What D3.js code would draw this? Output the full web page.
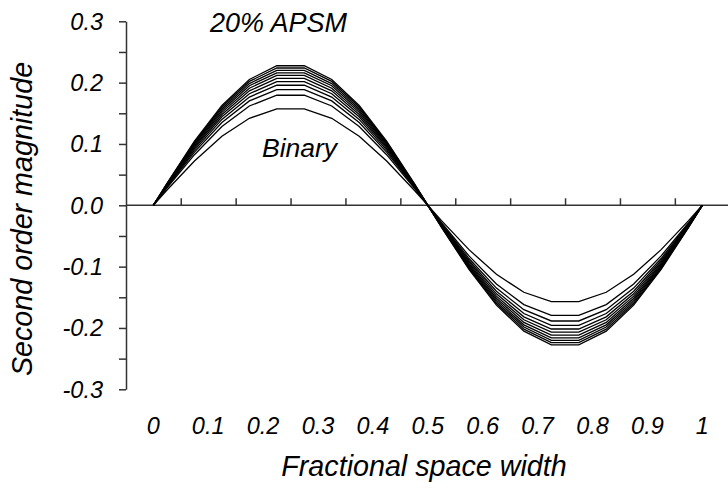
<!DOCTYPE html>
<html><head><meta charset="utf-8">
<script src="https://cdn.jsdelivr.net/npm/d3@7"></script>
<style>
html,body{margin:0;padding:0;background:#fff;}
text{font-family:"Liberation Sans",Arial,sans-serif;font-style:italic;fill:#000;}
</style></head>
<body><svg id="c" width="728" height="491"></svg>
<script>
// Fractional space width sample points
const xValues = [0, 0.025, 0.075, 0.125, 0.175, 0.225, 0.275, 0.325, 0.375, 0.425, 0.475,
                 0.525, 0.575, 0.625, 0.675, 0.725, 0.775, 0.825, 0.875, 0.925, 0.975, 1];
// Second order magnitude, one array per mask
const binary = [0, 0.0249, 0.0723, 0.1125, 0.1418, 0.1572, 0.1572, 0.1418, 0.1125, 0.0723, 0.0249,
                -0.0249, -0.0723, -0.1125, -0.1418, -0.1572, -0.1572, -0.1418, -0.1125, -0.0723, -0.0249, 0];
const apsm2 = [0, 0.0284, 0.0825, 0.1284, 0.1619, 0.1794, 0.1794, 0.1619, 0.1284, 0.0825, 0.0284,
               -0.0284, -0.0825, -0.1284, -0.1619, -0.1794, -0.1794, -0.1619, -0.1284, -0.0825, -0.0284, 0];
const apsm4 = [0, 0.0299, 0.0868, 0.1350, 0.1702, 0.1886, 0.1886, 0.1702, 0.1350, 0.0868, 0.0299,
               -0.0299, -0.0868, -0.1350, -0.1702, -0.1886, -0.1886, -0.1702, -0.1350, -0.0868, -0.0299, 0];
const apsm6 = [0, 0.0310, 0.0900, 0.1401, 0.1765, 0.1957, 0.1957, 0.1765, 0.1401, 0.0900, 0.0310,
               -0.0310, -0.0900, -0.1401, -0.1765, -0.1957, -0.1957, -0.1765, -0.1401, -0.0900, -0.0310, 0];
const apsm8 = [0, 0.0319, 0.0927, 0.1443, 0.1819, 0.2017, 0.2017, 0.1819, 0.1443, 0.0927, 0.0319,
               -0.0319, -0.0927, -0.1443, -0.1819, -0.2017, -0.2017, -0.1819, -0.1443, -0.0927, -0.0319, 0];
const apsm10 = [0, 0.0328, 0.0952, 0.1481, 0.1866, 0.2069, 0.2069, 0.1866, 0.1481, 0.0952, 0.0328,
                -0.0328, -0.0952, -0.1481, -0.1866, -0.2069, -0.2069, -0.1866, -0.1481, -0.0952, -0.0328, 0];
const apsm12 = [0, 0.0335, 0.0973, 0.1515, 0.1909, 0.2117, 0.2117, 0.1909, 0.1515, 0.0973, 0.0335,
                -0.0335, -0.0973, -0.1515, -0.1909, -0.2117, -0.2117, -0.1909, -0.1515, -0.0973, -0.0335, 0];
const apsm14 = [0, 0.0342, 0.0994, 0.1546, 0.1949, 0.2160, 0.2160, 0.1949, 0.1546, 0.0994, 0.0342,
                -0.0342, -0.0994, -0.1546, -0.1949, -0.2160, -0.2160, -0.1949, -0.1546, -0.0994, -0.0342, 0];
const apsm16 = [0, 0.0349, 0.1012, 0.1575, 0.1985, 0.2201, 0.2201, 0.1985, 0.1575, 0.1012, 0.0349,
                -0.0349, -0.1012, -0.1575, -0.1985, -0.2201, -0.2201, -0.1985, -0.1575, -0.1012, -0.0349, 0];
const apsm18 = [0, 0.0355, 0.1030, 0.1602, 0.2020, 0.2239, 0.2239, 0.2020, 0.1602, 0.1030, 0.0355,
                -0.0355, -0.1030, -0.1602, -0.2020, -0.2239, -0.2239, -0.2020, -0.1602, -0.1030, -0.0355, 0];
const apsm20 = [0, 0.0360, 0.1046, 0.1628, 0.2052, 0.2275, 0.2275, 0.2052, 0.1628, 0.1046, 0.0360,
                -0.0360, -0.1046, -0.1628, -0.2052, -0.2275, -0.2275, -0.2052, -0.1628, -0.1046, -0.0360, 0];
const seriesList = [binary, apsm2, apsm4, apsm6, apsm8, apsm10, apsm12, apsm14, apsm16, apsm18, apsm20];

const xTickLabels = ["0", "0.1", "0.2", "0.3", "0.4", "0.5", "0.6", "0.7", "0.8", "0.9", "1"];
const xTickLabelValues = [0, 0.1, 0.2, 0.3, 0.4, 0.5, 0.6, 0.7, 0.8, 0.9, 1];
const xTickMarks = [0.05, 0.15, 0.25, 0.35, 0.45, 0.55, 0.65, 0.75, 0.85, 0.95];
const yTickLabelValues = [-0.3, -0.2, -0.1, 0, 0.1, 0.2, 0.3];
const yTickMarks = [-0.3, -0.25, -0.2, -0.15, -0.1, -0.05, 0, 0.05, 0.1, 0.15, 0.2, 0.25, 0.3];

const svg = d3.select("#c");
const x = d3.scaleLinear().domain([0, 1]).range([153.3, 702.3]);
const y = d3.scaleLinear().domain([-0.3, 0.3]).range([389.3, 21.3]);
const axisLeftX = 126;
const axisColor = "#333";

// y axis
const ya = svg.append("g").attr("transform", `translate(${axisLeftX},0)`)
  .call(d3.axisLeft(y).tickValues(yTickMarks).tickSize(7).tickSizeOuter(0).tickFormat(""));
ya.selectAll("path,line").attr("stroke", axisColor).attr("stroke-width", 1.5);
svg.append("g").selectAll("text").data(yTickLabelValues).join("text")
  .attr("x", 103).attr("y", d => y(d)).attr("dy", "0.36em")
  .attr("text-anchor", "end").attr("font-size", 23.5)
  .text(d => d.toFixed(1));

// x axis through zero
const xa = svg.append("g").attr("transform", `translate(0,${y(0)})`)
  .call(d3.axisTop(x).tickValues(xTickMarks).tickSize(7).tickSizeOuter(0).tickFormat(""));
xa.select(".domain").remove();
xa.selectAll("line").attr("stroke", axisColor).attr("stroke-width", 1.5);
svg.append("line").attr("x1", axisLeftX).attr("x2", 728).attr("y1", y(0)).attr("y2", y(0))
  .attr("stroke", axisColor).attr("stroke-width", 1.5);

svg.append("g").selectAll("text").data(xTickLabelValues).join("text")
  .attr("x", d => x(d)).attr("y", 434).attr("text-anchor", "middle").attr("font-size", 23.5)
  .text((d, i) => xTickLabels[i]);

// curves
const line = d3.line().x((d, i) => x(xValues[i])).y(d => y(d));
svg.append("g").selectAll("path").data(seriesList).join("path")
  .attr("d", line).attr("fill", "none").attr("stroke", "#000").attr("stroke-width", 1.3);

// titles
svg.append("text").attr("x", 424).attr("y", 476).attr("text-anchor", "middle")
  .attr("font-size", 28.7).text("Fractional space width");
svg.append("text").attr("transform", "translate(32,219) rotate(-90)").attr("text-anchor", "middle")
  .attr("font-size", 28.7).text("Second order magnitude");
svg.append("text").attr("x", 210).attr("y", 32).attr("font-size", 27).text("20% APSM");
svg.append("text").attr("x", 262).attr("y", 157).attr("font-size", 26.5).text("Binary");
</script></body></html>
